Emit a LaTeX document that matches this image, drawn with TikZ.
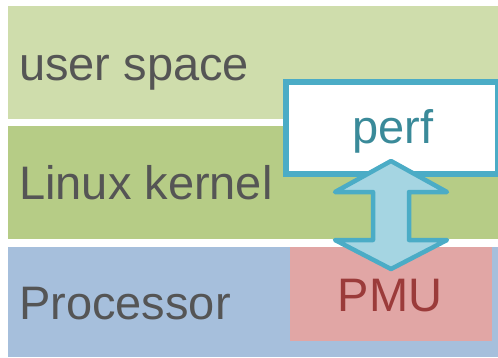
\documentclass[tikz,border=0pt]{standalone}
\usepackage{fontspec}
\setmainfont{Liberation Sans}
\definecolor{usercol}{HTML}{CFDDAC}
\definecolor{kernelcol}{HTML}{B6CC86}
\definecolor{proccol}{HTML}{A6BFDC}
\definecolor{pmucol}{HTML}{E1A6A5}
\definecolor{pmutext}{HTML}{9B3B3A}
\definecolor{tealline}{HTML}{4BACC6}
\definecolor{tealtext}{HTML}{3A8A99}
\definecolor{arrowfill}{HTML}{A5D5E2}
\definecolor{labelgray}{HTML}{555555}
\tikzset{
  band/.style={draw=none, inner sep=0pt, anchor=north west},
  label/.style={inner sep=0pt, font=\fontsize{47}{56}\selectfont},
  layerlabel/.style={label, text=labelgray, anchor=base west},
}
\begin{document}
\begin{tikzpicture}[x=1pt,y=-1pt]
  \useasboundingbox (0,0) rectangle (498,357);
  % layer bands
  \node[band, fill=usercol, minimum width=490pt, minimum height=113pt] (user) at (8,6) {};
  \node[band, fill=kernelcol, minimum width=490pt, minimum height=113pt] (kernel) at (8,126) {};
  \node[band, fill=proccol, minimum width=490pt, minimum height=110pt] (proc) at (8,247) {};
  % PMU block inside the processor
  \node[band, fill=pmucol, minimum width=202pt, minimum height=94pt] (pmu) at (290,247) {};
  % perf box
  \node[band, fill=white, draw=tealline, line width=6pt, minimum width=212pt, minimum height=92pt] (perfbox) at (283,79) {};
  % layer names
  \node[layerlabel] (userlbl) at (19,80) {user space};
  \node[layerlabel] (kernellbl) at (19,199) {Linux kernel};
  \node[layerlabel] (proclbl) at (19,319) {Processor};
  \node[label, text=tealtext, anchor=base] (perflbl) at (393,143) {perf};
  \node[label, text=pmutext, anchor=base] (pmulbl) at (390,311) {PMU};
  % two-way arrow between perf and the PMU
  \draw[draw=tealline, fill=arrowfill, line width=4.5pt, line join=round]
    (391,161) -- (447,192) -- (409,192) -- (409,240) -- (447,240) -- (391,269)
    -- (335,240) -- (373,240) -- (373,192) -- (335,192) -- cycle;
\end{tikzpicture}
\end{document}
